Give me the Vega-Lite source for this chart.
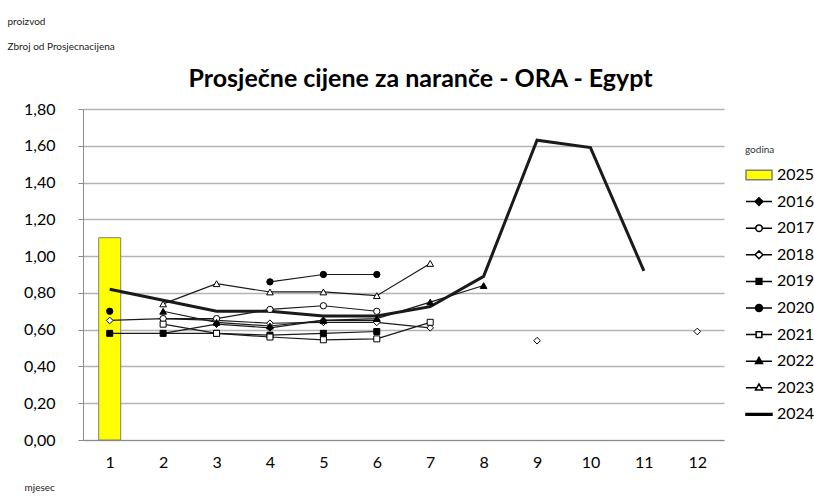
{
  "$schema": "https://vega.github.io/schema/vega-lite/v6.json",
  "autosize": {"type": "none"},
  "width": 641,
  "height": 331,
  "padding": {"left": 83, "top": 109, "right": 90, "bottom": 56},
  "background": "white",
  "config": {"view": {"stroke": null}, "font": "Lato"},
  "title": {
    "text": "Prosječne cijene za naranče - ORA - Egypt",
    "font": "Lato",
    "fontSize": 25,
    "fontWeight": "bold",
    "color": "black",
    "anchor": "middle",
    "frame": "group",
    "dx": 17,
    "baseline": "alphabetic",
    "offset": -96
  },
  "data": {
    "values": [
      {"godina": "2025", "mjesec": 1, "cijena": 1.10},
      {"godina": "2016", "mjesec": 2, "cijena": 0.58},
      {"godina": "2016", "mjesec": 3, "cijena": 0.63},
      {"godina": "2016", "mjesec": 4, "cijena": 0.61},
      {"godina": "2016", "mjesec": 5, "cijena": 0.65},
      {"godina": "2016", "mjesec": 6, "cijena": 0.65},
      {"godina": "2017", "mjesec": 2, "cijena": 0.66},
      {"godina": "2017", "mjesec": 3, "cijena": 0.66},
      {"godina": "2017", "mjesec": 4, "cijena": 0.71},
      {"godina": "2017", "mjesec": 5, "cijena": 0.73},
      {"godina": "2017", "mjesec": 6, "cijena": 0.70},
      {"godina": "2018", "mjesec": 1, "cijena": 0.65},
      {"godina": "2018", "mjesec": 2, "cijena": 0.66},
      {"godina": "2018", "mjesec": 3, "cijena": 0.65},
      {"godina": "2018", "mjesec": 4, "cijena": 0.635},
      {"godina": "2018", "mjesec": 5, "cijena": 0.64},
      {"godina": "2018", "mjesec": 6, "cijena": 0.64},
      {"godina": "2018", "mjesec": 7, "cijena": 0.61},
      {"godina": "2018", "mjesec": 8, "cijena": null},
      {"godina": "2018", "mjesec": 9, "cijena": 0.54},
      {"godina": "2018", "mjesec": 10, "cijena": null},
      {"godina": "2018", "mjesec": 11, "cijena": null},
      {"godina": "2018", "mjesec": 12, "cijena": 0.59},
      {"godina": "2019", "mjesec": 1, "cijena": 0.58},
      {"godina": "2019", "mjesec": 2, "cijena": 0.58},
      {"godina": "2019", "mjesec": 3, "cijena": 0.58},
      {"godina": "2019", "mjesec": 4, "cijena": 0.57},
      {"godina": "2019", "mjesec": 5, "cijena": 0.58},
      {"godina": "2019", "mjesec": 6, "cijena": 0.59},
      {"godina": "2020", "mjesec": 1, "cijena": 0.70},
      {"godina": "2020", "mjesec": 2, "cijena": null},
      {"godina": "2020", "mjesec": 3, "cijena": null},
      {"godina": "2020", "mjesec": 4, "cijena": 0.86},
      {"godina": "2020", "mjesec": 5, "cijena": 0.90},
      {"godina": "2020", "mjesec": 6, "cijena": 0.90},
      {"godina": "2021", "mjesec": 2, "cijena": 0.63},
      {"godina": "2021", "mjesec": 3, "cijena": 0.58},
      {"godina": "2021", "mjesec": 4, "cijena": 0.56},
      {"godina": "2021", "mjesec": 5, "cijena": 0.545},
      {"godina": "2021", "mjesec": 6, "cijena": 0.55},
      {"godina": "2021", "mjesec": 7, "cijena": 0.64},
      {"godina": "2022", "mjesec": 2, "cijena": 0.70},
      {"godina": "2022", "mjesec": 3, "cijena": 0.64},
      {"godina": "2022", "mjesec": 4, "cijena": 0.62},
      {"godina": "2022", "mjesec": 5, "cijena": 0.65},
      {"godina": "2022", "mjesec": 6, "cijena": 0.66},
      {"godina": "2022", "mjesec": 7, "cijena": 0.75},
      {"godina": "2022", "mjesec": 8, "cijena": 0.84},
      {"godina": "2023", "mjesec": 2, "cijena": 0.74},
      {"godina": "2023", "mjesec": 3, "cijena": 0.85},
      {"godina": "2023", "mjesec": 4, "cijena": 0.805},
      {"godina": "2023", "mjesec": 5, "cijena": 0.805},
      {"godina": "2023", "mjesec": 6, "cijena": 0.785},
      {"godina": "2023", "mjesec": 7, "cijena": 0.96},
      {"godina": "2024", "mjesec": 1, "cijena": 0.82},
      {"godina": "2024", "mjesec": 2, "cijena": 0.76},
      {"godina": "2024", "mjesec": 3, "cijena": 0.70},
      {"godina": "2024", "mjesec": 4, "cijena": 0.70},
      {"godina": "2024", "mjesec": 5, "cijena": 0.675},
      {"godina": "2024", "mjesec": 6, "cijena": 0.675},
      {"godina": "2024", "mjesec": 7, "cijena": 0.725},
      {"godina": "2024", "mjesec": 8, "cijena": 0.89},
      {"godina": "2024", "mjesec": 9, "cijena": 1.63},
      {"godina": "2024", "mjesec": 10, "cijena": 1.59},
      {"godina": "2024", "mjesec": 11, "cijena": 0.92}
    ]
  },
  "layer": [
    {
      "transform": [{"filter": "datum.godina === '2025'"}],
      "mark": {"type": "bar", "size": 22, "fill": "#ffff00", "stroke": "#7f7f7f", "strokeWidth": 1},
      "encoding": {
        "x": {
          "field": "mjesec", "type": "quantitative",
          "scale": {"domain": [0.5, 12.5], "nice": false, "zero": false, "padding": 0},
          "axis": {
            "values": [1, 2, 3, 4, 5, 6, 7, 8, 9, 10, 11, 12],
            "tickCount": 12,
            "format": "d",
            "grid": false,
            "ticks": false,
            "domainColor": "#8c8c8c",
            "domainWidth": 1,
            "labelFont": "Lato",
            "labelFontSize": 16,
            "labelColor": "black",
            "labelPadding": 14,
            "labelOverlap": false,
            "title": "mjesec",
            "titleFont": "Lato",
            "titleFontSize": 10,
            "titleFontWeight": "normal",
            "titleColor": "#222",
            "titleAlign": "left",
            "titleBaseline": "alphabetic",
            "titleX": -59,
            "titleY": 50
          }
        },
        "y": {
          "field": "cijena", "type": "quantitative",
          "scale": {"domain": [0, 1.8], "nice": false},
          "axis": {
            "values": [0, 0.2, 0.4, 0.6, 0.8, 1.0, 1.2, 1.4, 1.6, 1.8],
            "tickCount": 10,
            "labelExpr": "replace(format(datum.value, '.2f'), '.', ',')",
            "labelOverlap": false,
            "grid": true,
            "gridColor": "#b4b4b4",
            "gridWidth": 1.5,
            "domainColor": "#8c8c8c",
            "tickColor": "#8c8c8c",
            "tickSize": 5,
            "labelFont": "Lato",
            "labelFontSize": 16,
            "labelColor": "black",
            "labelPadding": 23,
            "title": ["proizvod", "Zbroj od Prosjecnacijena"],
            "titleAngle": 0,
            "titleAlign": "left",
            "titleBaseline": "alphabetic",
            "titleX": -76,
            "titleY": -85,
            "titleLineHeight": 25,
            "titleFont": "Lato",
            "titleFontSize": 10,
            "titleFontWeight": "normal",
            "titleColor": "#222"
          }
        }
      }
    },
    {
      "transform": [{"filter": "datum.godina !== '2025'"}],
      "mark": {"type": "line", "color": "#1a1a1a", "invalid": "break-paths-show-domains"},
      "encoding": {
        "x": {"field": "mjesec", "type": "quantitative"},
        "y": {"field": "cijena", "type": "quantitative"},
        "detail": {"field": "godina"},
        "strokeWidth": {"condition": {"test": "datum.godina === '2024'", "value": 3}, "value": 1.2}
      }
    },
    {
      "transform": [{"filter": "(datum.godina === '2016' || datum.godina === '2018') && isValid(datum.cijena)"}],
      "mark": {"type": "point", "shape": "diamond", "size": 45, "stroke": "black", "strokeWidth": 1, "opacity": 1},
      "encoding": {
        "x": {"field": "mjesec", "type": "quantitative"},
        "y": {"field": "cijena", "type": "quantitative"},
        "fill": {"condition": {"test": "datum.godina === '2016'", "value": "black"}, "value": "white"}
      }
    },
    {
      "transform": [{"filter": "(datum.godina === '2017' || datum.godina === '2020') && isValid(datum.cijena)"}],
      "mark": {"type": "point", "shape": "circle", "size": 40, "stroke": "black", "strokeWidth": 1, "opacity": 1},
      "encoding": {
        "x": {"field": "mjesec", "type": "quantitative"},
        "y": {"field": "cijena", "type": "quantitative"},
        "fill": {"condition": {"test": "datum.godina === '2020'", "value": "black"}, "value": "white"}
      }
    },
    {
      "transform": [{"filter": "(datum.godina === '2019' || datum.godina === '2021') && isValid(datum.cijena)"}],
      "mark": {"type": "point", "shape": "square", "size": 36, "stroke": "black", "strokeWidth": 1, "opacity": 1},
      "encoding": {
        "x": {"field": "mjesec", "type": "quantitative"},
        "y": {"field": "cijena", "type": "quantitative"},
        "fill": {"condition": {"test": "datum.godina === '2019'", "value": "black"}, "value": "white"}
      }
    },
    {
      "transform": [{"filter": "(datum.godina === '2022' || datum.godina === '2023') && isValid(datum.cijena)"}],
      "mark": {"type": "point", "shape": "triangle-up", "size": 45, "stroke": "black", "strokeWidth": 1, "opacity": 1},
      "encoding": {
        "x": {"field": "mjesec", "type": "quantitative"},
        "y": {"field": "cijena", "type": "quantitative"},
        "fill": {"condition": {"test": "datum.godina === '2022'", "value": "black"}, "value": "white"}
      }
    },
    {
      "transform": [{"filter": "isValid(datum.cijena)"}],
      "mark": {"type": "point", "opacity": 0},
      "encoding": {
        "x": {"field": "mjesec", "type": "quantitative"},
        "y": {"field": "cijena", "type": "quantitative"},
        "shape": {
          "field": "godina", "type": "nominal",
          "scale": {
            "domain": ["2025", "2016", "2017", "2018", "2019", "2020", "2021", "2022", "2023", "2024"],
            "range": [
              "M-1,-0.36H1V0.36H-1Z",
              "M-1,0H1M0,-0.3L0.3,0L0,0.3L-0.3,0Z",
              "M-1,0H-0.25M0.25,0H1M-0.25,0A0.25,0.25 0 1,0 0.25,0A0.25,0.25 0 1,0 -0.25,0Z",
              "M-1,0H-0.3M0.3,0H1M0,-0.3L0.3,0L0,0.3L-0.3,0Z",
              "M-1,0H1M-0.22,-0.22H0.22V0.22H-0.22Z",
              "M-1,0H1M-0.27,0A0.27,0.27 0 1,0 0.27,0A0.27,0.27 0 1,0 -0.27,0Z",
              "M-1,0H-0.22M0.22,0H1M-0.22,-0.22H0.22V0.22H-0.22Z",
              "M-1,0H1M0,-0.3L0.27,0.17H-0.27Z",
              "M-1,0H-0.16M0.16,0H1M0,-0.3L0.27,0.17H-0.27Z",
              "M-1,-0.07H1V0.07H-1Z"
            ]
          },
          "legend": {
            "orient": "none",
            "legendX": 662,
            "legendY": 36,
            "padding": 0,
            "title": "godina",
            "titleFont": "Lato",
            "titleFontSize": 10,
            "titleFontWeight": "normal",
            "titleColor": "#333",
            "titlePadding": 6,
            "labelFont": "Lato",
            "labelFontSize": 16,
            "labelColor": "black",
            "labelOffset": 4,
            "symbolSize": 676,
            "symbolOpacity": 1,
            "rowPadding": 4.6
          }
        },
        "fill": {
          "field": "godina", "type": "nominal",
          "scale": {
            "domain": ["2025", "2016", "2017", "2018", "2019", "2020", "2021", "2022", "2023", "2024"],
            "range": ["#ffff00", "black", "white", "white", "black", "black", "white", "black", "white", "black"]
          }
        },
        "stroke": {
          "field": "godina", "type": "nominal",
          "scale": {
            "domain": ["2025", "2016", "2017", "2018", "2019", "2020", "2021", "2022", "2023", "2024"],
            "range": ["#7f7f7f", "black", "black", "black", "black", "black", "black", "black", "black", "black"]
          }
        }
      }
    }
  ]
}
